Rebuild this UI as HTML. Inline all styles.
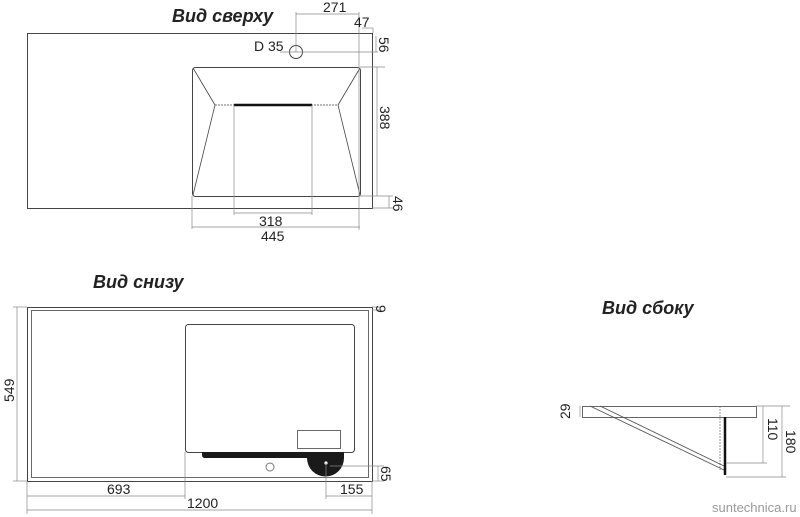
<!DOCTYPE html>
<html><head><meta charset="utf-8"><style>
html,body{margin:0;padding:0;background:#fff;}
svg{display:block;}
text{font-family:"Liberation Sans",Arial,sans-serif;fill:#222;}
.t{font-weight:bold;font-style:italic;font-size:18px;}
.d{font-size:14px;}
</style></head><body>
<svg width="800" height="517" viewBox="0 0 800 517" xmlns="http://www.w3.org/2000/svg">
<g fill="none" stroke="#444" stroke-width="1">
<rect x="27.5" y="33.5" width="345" height="175"/>
<rect x="192.5" y="67.5" width="168" height="129" rx="3"/>
<polyline points="193,68 215,105 193,195" stroke-width="0.8"/>
<polyline points="360,68 338,105 360,195" stroke-width="0.8"/>
<line x1="215" y1="105" x2="338" y2="105" stroke-dasharray="2,1" stroke-width="0.8"/>
<circle cx="296" cy="52" r="6.5"/>
</g>
<line x1="234" y1="105" x2="312" y2="105" stroke="#111" stroke-width="2.5"/>
<g stroke="#888" stroke-width="0.7" fill="none">
<line x1="296" y1="12" x2="296" y2="52"/>
<line x1="296" y1="14" x2="359" y2="14"/>
<line x1="359" y1="12" x2="359" y2="230"/>
<line x1="362" y1="28" x2="373" y2="28"/>
<line x1="373" y1="28" x2="373" y2="33"/>
<line x1="280" y1="52" x2="378" y2="52"/>
<line x1="376" y1="36" x2="376" y2="52"/>
<line x1="360" y1="67" x2="385" y2="67"/>
<line x1="377" y1="67" x2="377" y2="196"/>
<line x1="360" y1="196" x2="393" y2="196"/>
<line x1="372" y1="208" x2="393" y2="208"/>
<line x1="389" y1="196" x2="389" y2="208"/>
<line x1="234" y1="105" x2="234" y2="215"/>
<line x1="312" y1="105" x2="312" y2="215"/>
<line x1="234" y1="213" x2="312" y2="213"/>
<line x1="192" y1="196" x2="192" y2="229"/>
<line x1="192" y1="227" x2="360" y2="227"/>
</g>
<text class="t" x="172" y="22">Вид сверху</text>
<text class="d" x="323" y="12">271</text>
<text class="d" x="354" y="27">47</text>
<text class="d" x="254" y="51">D 35</text>
<text class="d" transform="translate(379,37) rotate(90)">56</text>
<text class="d" transform="translate(380,106) rotate(90)">388</text>
<text class="d" transform="translate(393,196) rotate(90)">46</text>
<text class="d" x="259" y="226">318</text>
<text class="d" x="261" y="241">445</text>

<text class="t" x="93" y="288">Вид снизу</text>
<g fill="none" stroke="#444">
<rect x="27.5" y="307.5" width="345" height="174"/>
<rect x="31.5" y="310.5" width="337" height="167" stroke-width="0.8"/>
<rect x="185.5" y="324.5" width="169" height="128" rx="3"/>
<rect x="297.5" y="430.5" width="43" height="18" stroke-width="0.8"/>
<circle cx="270" cy="467" r="4" stroke="#777"/>
</g>
<path d="M202 452 H344 V458 A18 18 0 0 1 307 458 H205 Q202 458 202 455 Z" fill="#1a1a1a"/>
<circle cx="326" cy="463" r="1.6" fill="#fff"/>
<g stroke="#888" stroke-width="0.7" fill="none">
<line x1="13" y1="307" x2="27" y2="307"/>
<line x1="13" y1="481" x2="27" y2="481"/>
<line x1="17" y1="307" x2="17" y2="481"/>
<line x1="372" y1="307" x2="380" y2="307"/>
<line x1="372" y1="310" x2="380" y2="310"/>
<line x1="27" y1="481" x2="27" y2="514"/>
<line x1="185" y1="452" x2="185" y2="499"/>
<line x1="27" y1="496" x2="185" y2="496"/>
<line x1="326" y1="463" x2="326" y2="499"/>
<line x1="326" y1="496" x2="372" y2="496"/>
<line x1="372" y1="481" x2="372" y2="514"/>
<line x1="27" y1="510" x2="372" y2="510"/>
<line x1="330" y1="466" x2="384" y2="466"/>
<line x1="378" y1="466" x2="378" y2="481"/>
<line x1="372" y1="481" x2="384" y2="481"/>
</g>
<text class="d" transform="translate(14,402) rotate(-90)">549</text>
<text class="d" transform="translate(376,305) rotate(90)">9</text>
<text class="d" transform="translate(381,466) rotate(90)">65</text>
<text class="d" x="107" y="494">693</text>
<text class="d" x="340" y="494">155</text>
<text class="d" x="187" y="508">1200</text>

<text class="t" x="602" y="314">Вид сбоку</text>
<g fill="none" stroke="#555" stroke-width="0.9">
<rect x="582.5" y="406.5" width="174" height="11"/>
<line x1="590" y1="406" x2="724" y2="470"/>
<line x1="600" y1="406" x2="724" y2="466"/>
<line x1="720" y1="406" x2="720" y2="470" stroke-dasharray="2,1" stroke-width="0.6"/>
</g>
<line x1="725" y1="417" x2="725" y2="475" stroke="#111" stroke-width="2.5"/>
<g stroke="#888" stroke-width="0.7">
<line x1="580" y1="406" x2="580" y2="417"/>
<line x1="756" y1="406" x2="790" y2="406"/>
<line x1="726" y1="463" x2="767" y2="463"/>
<line x1="726" y1="477" x2="786" y2="477"/>
<line x1="763" y1="406" x2="763" y2="463"/>
<line x1="782" y1="406" x2="782" y2="477"/>
</g>
<text class="d" transform="translate(570,419) rotate(-90)">29</text>
<text class="d" transform="translate(768,418) rotate(90)">110</text>
<text class="d" transform="translate(786,430) rotate(90)">180</text>
<text x="712" y="512" style="font-size:13px;fill:#999;">suntechnica.ru</text>
</svg>
</body></html>
